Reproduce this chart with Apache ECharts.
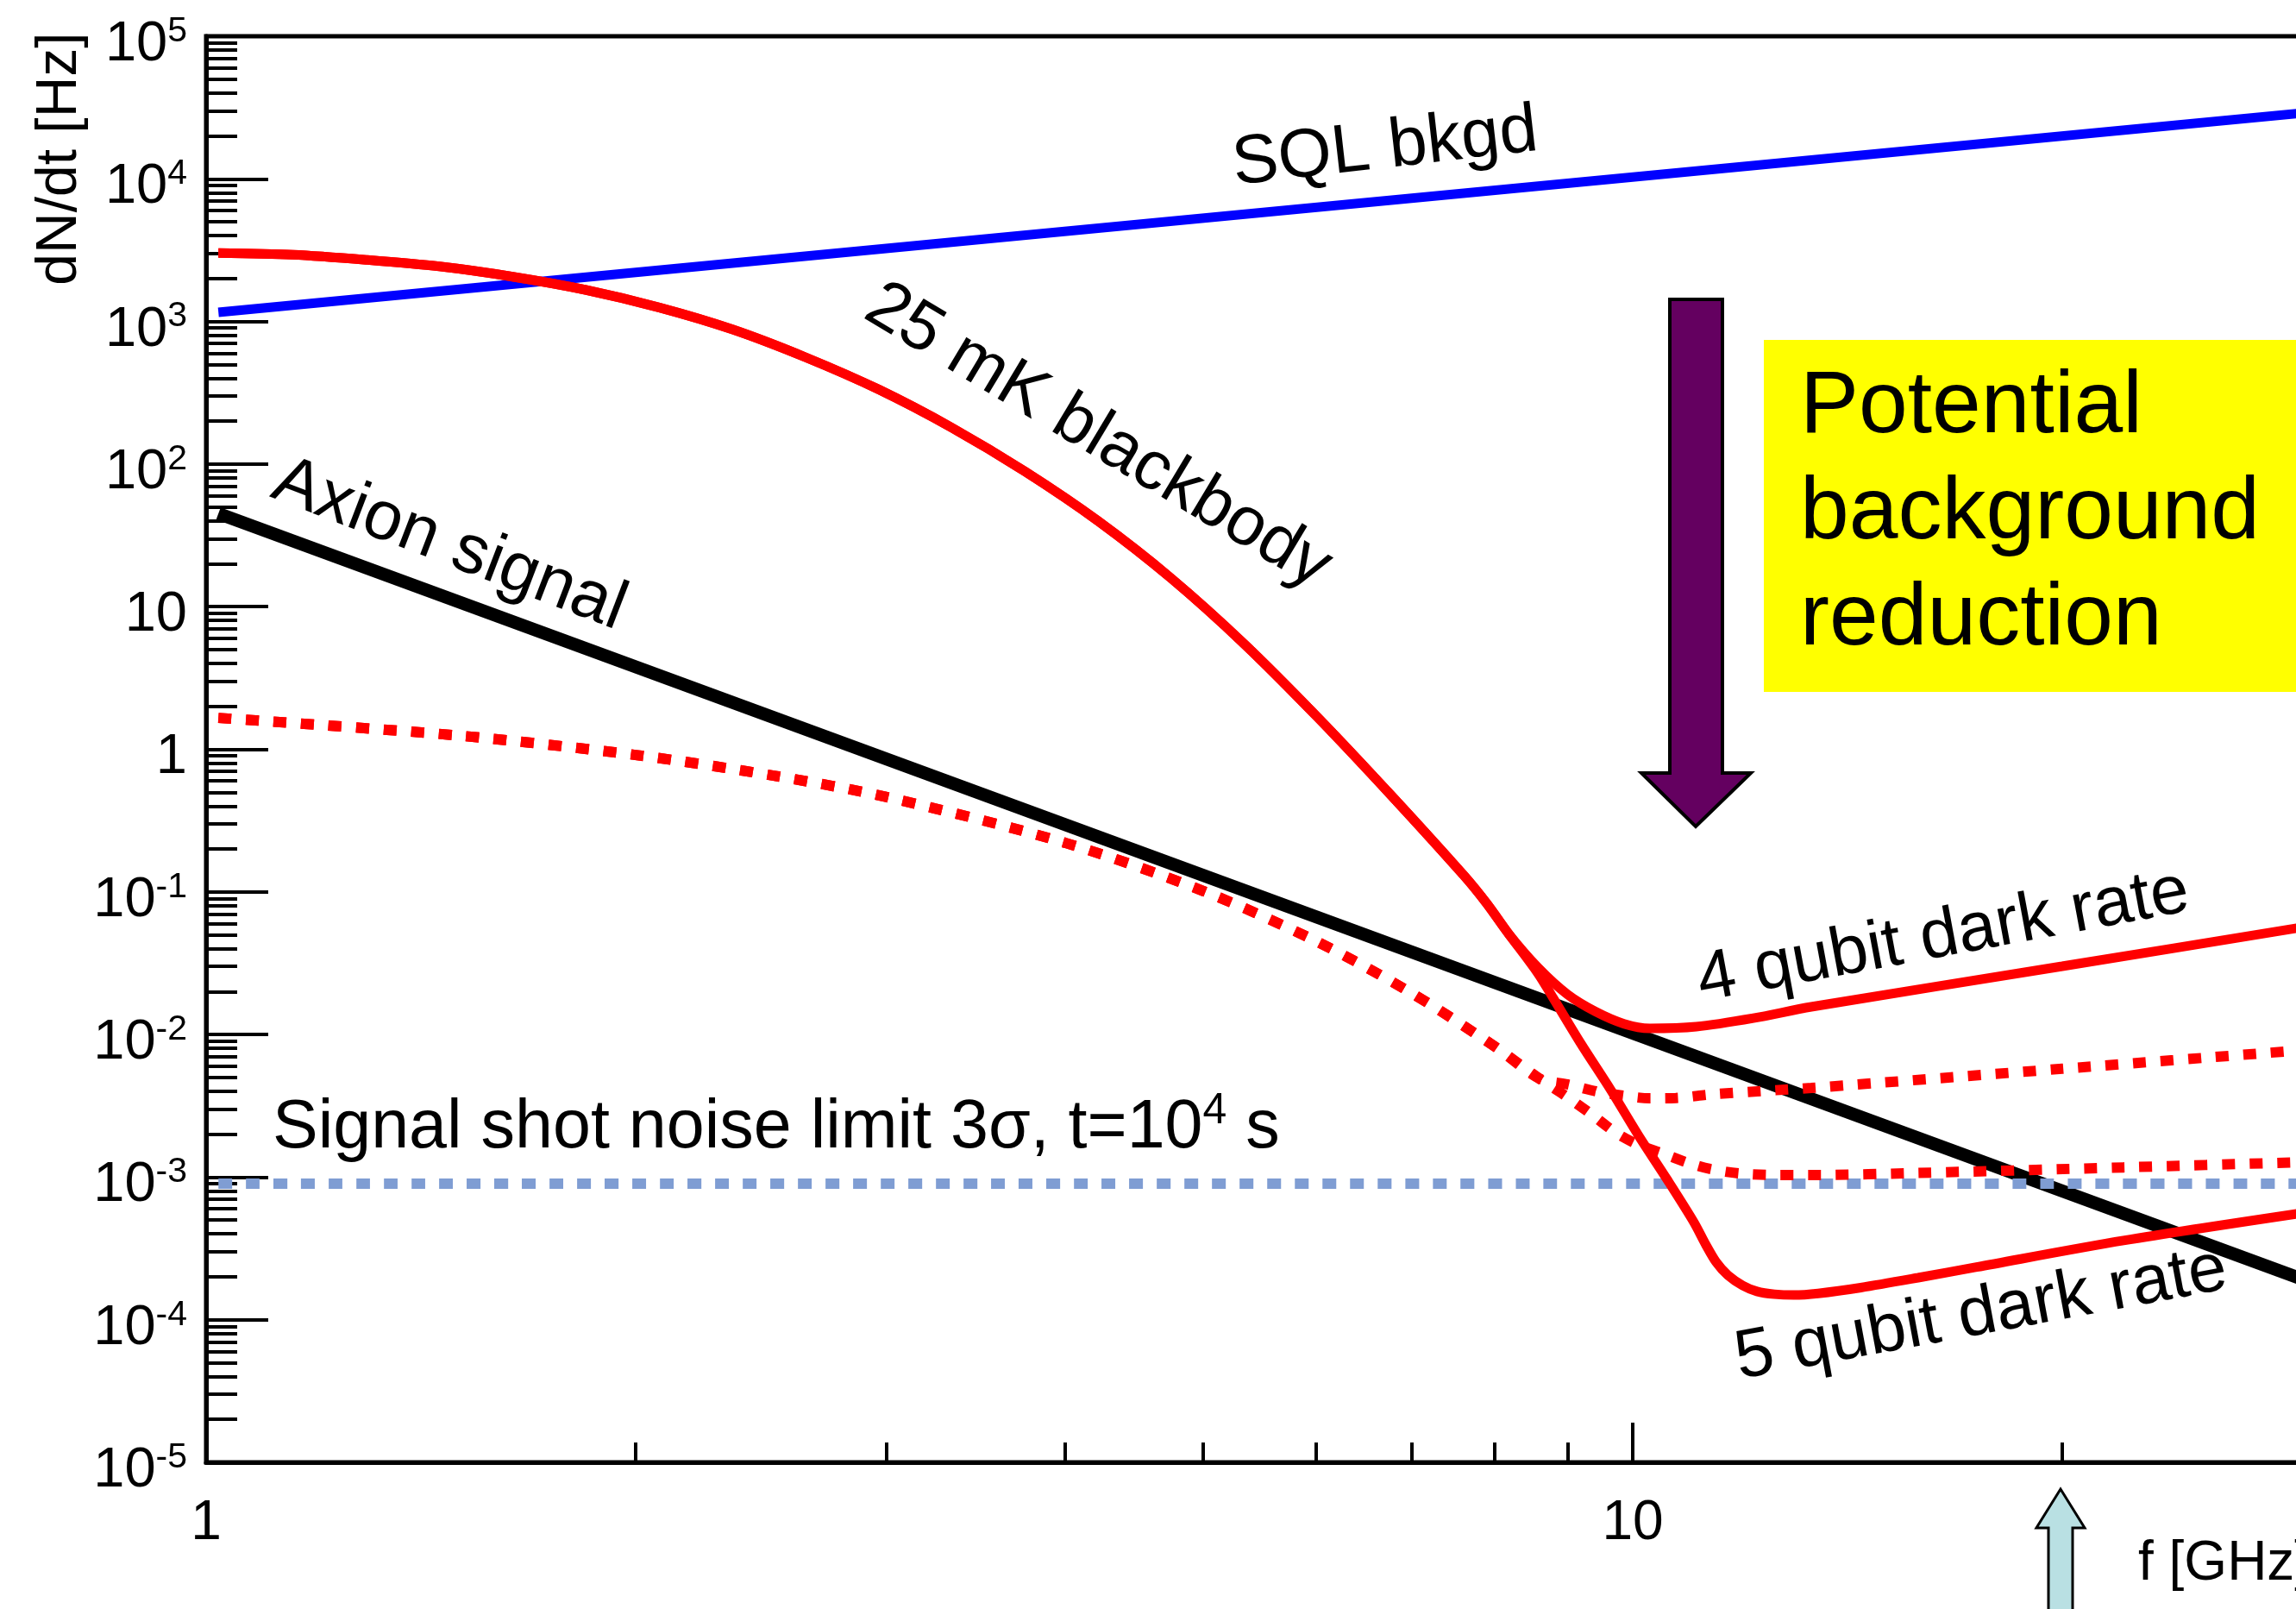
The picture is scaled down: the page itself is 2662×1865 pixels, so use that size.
<!DOCTYPE html>
<html><head><meta charset="utf-8">
<script src="https://cdn.jsdelivr.net/npm/echarts@6/dist/echarts.min.js"></script>
<style>html,body{margin:0;padding:0;background:#fff;}#c{width:2662px;height:1865px;}</style>
</head><body><div id="c"></div>
<script>
const FONT = '"Liberation Sans", Arial, Helvetica, sans-serif';

// ---- tick values ----
const xMajorTicks = [1, 10, 100];
const xMinorTicks = [2, 3, 4, 5, 6, 7, 8, 9, 20, 30, 40, 50, 60, 70, 80, 90];
const yMajorTicks = [1e-5, 1e-4, 1e-3, 1e-2, 1e-1, 1, 10, 1e2, 1e3, 1e4, 1e5];
const yMinorTicks = [];
for (let e = -5; e < 5; e++) for (let m = 2; m <= 9; m++) yMinorTicks.push(+(m * Math.pow(10, e)).toPrecision(3));

// ---- series values (f in GHz, rate in Hz) ----
const sqlF = [1.02, 30];
const sqlV = [1160, 29400];
const axionF = [1.02, 30];
const axionV = [45, 1.8e-4];
const shotF = [1.02, 30];
const shotV = [9e-4, 9e-4];
// 25 mK blackbody (common part of both solid red curves)
const bbF = [1.02, 1.15, 1.295, 1.457, 1.64, 1.845, 2.077, 2.338, 2.63, 2.96, 3.332, 3.749, 4.22, 4.748, 5.344, 6.014, 6.768, 7.616, 7.9, 8.19];
const bbV = [3020, 2937, 2704, 2431, 2060, 1665, 1254, 880, 562, 334, 180, 88.8, 39.8, 15.8, 5.46, 1.675, 0.478, 0.130, 0.083, 0.0504];
// 4 qubit dark rate branch
const q4F = [8.58, 9.0, 9.42, 9.86, 10.28, 11.08, 12.15, 13.34, 20, 30];
const q4V = [0.0295, 0.0191, 0.01445, 0.01189, 0.01104, 0.01135, 0.01303, 0.01563, 0.0301, 0.0581];
// 5 qubit dark rate branch
const q5F = [8.58, 8.79, 9.2, 9.65, 10.1, 10.57, 11.04, 11.25, 11.44, 11.66, 11.94, 12.22, 12.57, 12.97, 13.49, 14.45, 15.85, 17.42, 22.08, 30];
const q5V = [0.0269, 0.0182, 8.59e-3, 4.10e-3, 1.94e-3, 9.64e-4, 4.81e-4, 3.37e-4, 2.54e-4, 2.05e-4, 1.74e-4, 1.58e-4, 1.51e-4, 1.49e-4, 1.53e-4, 1.68e-4, 1.97e-4, 2.34e-4, 3.59e-4, 5.75e-4];
// dotted red curves: common part
const dotF = [1.02, 1.5, 2, 2.5, 3, 4, 5, 6, 7, 8, 8.6];
const dotV = [1.66, 1.25, 0.912, 0.653, 0.462, 0.221, 0.1014, 0.0451, 0.0195, 8.27e-3, 4.91e-3];
const dotUpF = [9.0, 9.42, 9.86, 10.28, 10.72, 11.35, 12.6, 13.34, 20, 30];
const dotUpV = [4.47e-3, 4.0e-3, 3.72e-3, 3.57e-3, 3.59e-3, 3.80e-3, 4.07e-3, 4.22e-3, 5.75e-3, 7.87e-3];
const dotLoF = [8.91, 9.33, 9.73, 10.1, 10.49, 10.93, 11.33, 11.89, 12.59, 13.49, 15.85, 22.08, 30];
const dotLoV = [3.89e-3, 2.82e-3, 2.05e-3, 1.68e-3, 1.47e-3, 1.26e-3, 1.14e-3, 1.06e-3, 1.035e-3, 1.035e-3, 1.07e-3, 1.17e-3, 1.28e-3];

function pts(f, v) { return f.map((x, i) => [x, v[i]]); }

function yLabel(v) {
  const e = Math.round(Math.log10(v));
  if (e === 0) return '{b|1}';
  if (e === 1) return '{b|10}';
  return '{b|10}{s|' + e + '}';
}

const chart = echarts.init(document.getElementById('c'), null, { renderer: 'canvas' });

const lineBase = { type: 'line', showSymbol: false, symbol: 'none', silent: true, smooth: 0.3, clip: true, xAxisIndex: 0, yAxisIndex: 0 };
const red = '#ff0000';

chart.setOption({
  animation: false,
  backgroundColor: '#ffffff',
  grid: { left: 239, top: 42, width: 3308, height: 1653, show: true, borderColor: '#000', borderWidth: 5, backgroundColor: 'transparent', containLabel: false, outerBoundsMode: 'none' },
  xAxis: [
    { type: 'log', logBase: 10, min: 1, max: 100, position: 'bottom',
      axisLine: { show: true, lineStyle: { color: '#000', width: 5 } },
      axisTick: { show: true, inside: true, length: 46, customValues: xMajorTicks, lineStyle: { color: '#000', width: 4 } },
      minorTick: { show: false }, splitLine: { show: false },
      axisLabel: { show: true, customValues: xMajorTicks, margin: 39, color: '#000', fontSize: 64, fontFamily: FONT, lineHeight: 64,
        formatter: v => String(Math.round(v)) } },
    { type: 'log', logBase: 10, min: 1, max: 100, position: 'bottom',
      axisLine: { show: false },
      axisTick: { show: true, inside: true, length: 23, customValues: xMinorTicks, lineStyle: { color: '#000', width: 4 } },
      minorTick: { show: false }, splitLine: { show: false }, axisLabel: { show: false } }
  ],
  yAxis: [
    { type: 'log', logBase: 10, min: 1e-5, max: 1e5, position: 'left',
      axisLine: { show: true, lineStyle: { color: '#000', width: 5 } },
      axisTick: { show: true, inside: true, length: 72, customValues: yMajorTicks, lineStyle: { color: '#000', width: 4 } },
      minorTick: { show: false }, splitLine: { show: false },
      axisLabel: { show: true, customValues: yMajorTicks, margin: 22, padding: [20, 0, 0, 0], formatter: yLabel,
        rich: {
          b: { fontSize: 65, fontFamily: FONT, color: '#000', lineHeight: 72 },
          s: { fontSize: 41, fontFamily: FONT, color: '#000', lineHeight: 24, verticalAlign: 'top' }
        } } },
    { type: 'log', logBase: 10, min: 1e-5, max: 1e5, position: 'left',
      axisLine: { show: false },
      axisTick: { show: true, inside: true, length: 36, customValues: yMinorTicks, lineStyle: { color: '#000', width: 4 } },
      minorTick: { show: false }, splitLine: { show: false }, axisLabel: { show: false } }
  ],
  series: [
    Object.assign({}, lineBase, { name: 'Axion signal', data: pts(axionF, axionV), lineStyle: { color: '#000', width: 15 }, z: 2 }),
    Object.assign({}, lineBase, { name: 'Shot noise limit', data: pts(shotF, shotV), lineStyle: { color: '#7f9dd3', width: 12, type: [16, 16], cap: 'butt' }, z: 3 }),
    Object.assign({}, lineBase, { name: 'SQL bkgd', data: pts(sqlF, sqlV), lineStyle: { color: '#0000ff', width: 11 }, z: 3 }),
    Object.assign({}, lineBase, { name: 'dotted upper', data: pts(dotF.concat(dotUpF), dotV.concat(dotUpV)), lineStyle: { color: red, width: 12, type: [15, 17], cap: 'butt' }, z: 4 }),
    Object.assign({}, lineBase, { name: 'dotted lower', data: pts(dotF.concat(dotLoF), dotV.concat(dotLoV)), lineStyle: { color: red, width: 12, type: [15, 17], cap: 'butt' }, z: 4 }),
    Object.assign({}, lineBase, { name: '4 qubit dark rate', data: pts(bbF.concat(q4F), bbV.concat(q4V)), lineStyle: { color: red, width: 11 }, z: 5 }),
    Object.assign({}, lineBase, { name: '5 qubit dark rate', data: pts(bbF.concat(q5F), bbV.concat(q5V)), lineStyle: { color: red, width: 11 }, z: 5 })
  ],
  graphic: [
    { type: 'rect', shape: { x: 2045, y: 394, width: 700, height: 408 }, style: { fill: '#ffff00' }, z: 10 },
    { type: 'text', x: 2087, y: 596, style: { text: 'Potential\nbackground\nreduction', font: '102px ' + FONT, fill: '#000', align: 'left', verticalAlign: 'middle', lineHeight: 123 }, z: 11 },
    { type: 'polygon', shape: { points: [[1936, 347], [1997, 347], [1997, 896], [2030, 896], [1966, 958], [1903, 896], [1936, 896]] }, style: { fill: '#640060', stroke: '#000', lineWidth: 4 }, z: 10 },
    { type: 'polygon', shape: { points: [[2389, 1726], [2417, 1771], [2403, 1771], [2403, 1890], [2375, 1890], [2375, 1771], [2361, 1771]] }, style: { fill: '#b9e0e3', stroke: '#000', lineWidth: 3 }, z: 10 },
    { type: 'text', x: 1606, y: 172, rotation: 6.5 * Math.PI / 180, style: { text: 'SQL bkgd', font: '80px ' + FONT, fill: '#000', align: 'center', verticalAlign: 'middle' }, z: 11 },
    { type: 'text', x: 521, y: 632, rotation: -21 * Math.PI / 180, style: { text: 'Axion signal', font: '80px ' + FONT, fill: '#000', align: 'center', verticalAlign: 'middle' }, z: 11 },
    { type: 'text', x: 1273, y: 506, rotation: -31 * Math.PI / 180, style: { text: '25 mK blackbody', font: '80px ' + FONT, fill: '#000', align: 'center', verticalAlign: 'middle' }, z: 11 },
    { type: 'text', x: 2253, y: 1086, rotation: 10.5 * Math.PI / 180, style: { text: '4 qubit dark rate', font: '80px ' + FONT, fill: '#000', align: 'center', verticalAlign: 'middle' }, z: 11 },
    { type: 'text', x: 2297, y: 1524, rotation: 10.5 * Math.PI / 180, style: { text: '5 qubit dark rate', font: '80px ' + FONT, fill: '#000', align: 'center', verticalAlign: 'middle' }, z: 11 },
    { type: 'text', x: 316, y: 1308, style: { text: '{a|Signal shot noise limit 3σ, t=10}{s|4}{a| s}', align: 'left', verticalAlign: 'middle',
        rich: { a: { fontSize: 79, fontFamily: FONT, color: '#000', lineHeight: 90 }, s: { fontSize: 50, fontFamily: FONT, color: '#000', lineHeight: 30, verticalAlign: 'top' } } }, z: 11 },
    { type: 'text', x: 70, y: 184, rotation: Math.PI / 2, style: { text: 'dN/dt [Hz]', font: '66px ' + FONT, fill: '#000', align: 'center', verticalAlign: 'middle' }, z: 11 },
    { type: 'text', x: 2479, y: 1813, style: { text: 'f [GHz]', font: '64px ' + FONT, fill: '#000', align: 'left', verticalAlign: 'middle' }, z: 11 }
  ]
});
</script>
</body></html>
